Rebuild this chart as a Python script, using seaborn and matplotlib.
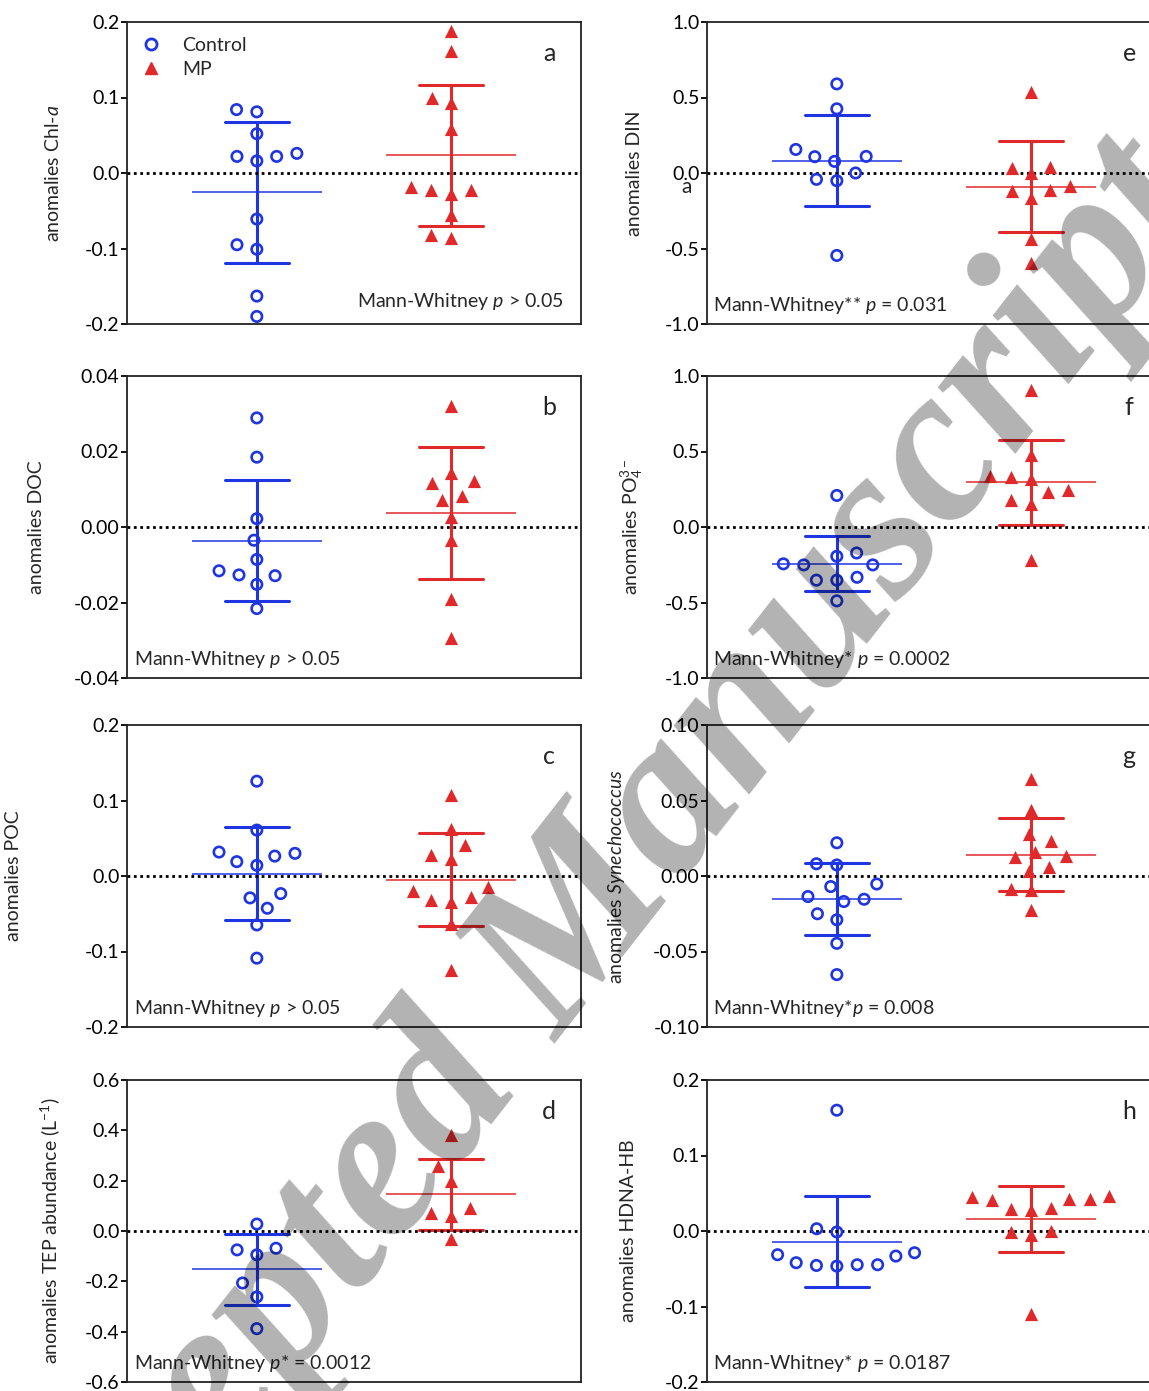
import numpy as np
import pandas as pd
import matplotlib
matplotlib.use("Agg")
import matplotlib.pyplot as plt
import seaborn as sns
from matplotlib.lines import Line2D

sns.set_theme(style="ticks")
plt.rcParams["font.family"] = ["Lato", "DejaVu Sans"]
plt.rcParams["mathtext.fontset"] = "custom"
plt.rcParams["mathtext.rm"] = "Lato"
plt.rcParams["mathtext.it"] = "Lato:italic"
plt.rcParams["mathtext.bf"] = "Lato:bold"
plt.rcParams["axes.unicode_minus"] = False

# ---------------- data ----------------
groups = ["Control", "MP"]

chla_control = [0.081, 0.084, 0.052, 0.022, 0.022, 0.016, 0.026, -0.061, -0.101, -0.095, -0.163, -0.190]
chla_mp = [0.188, 0.161, 0.093, 0.100, 0.058, -0.018, -0.028, -0.023, -0.023, -0.056, -0.086, -0.082]

doc_control = [0.0289, 0.0185, 0.0022, -0.0035, -0.0086, -0.0116, -0.0127, -0.0129, -0.0152, -0.0216]
doc_mp = [0.0320, 0.0123, 0.0117, 0.0143, 0.0072, 0.0081, 0.0026, -0.0035, -0.0191, -0.0293]

poc_control = [0.1256, 0.0608, 0.0264, 0.0317, 0.0300, 0.0190, 0.0141, -0.0233, -0.0290, -0.0427, -0.0648, -0.1088]
poc_mp = [0.107, 0.0617, 0.0405, 0.0278, 0.022, -0.0145, -0.0278, -0.0339, -0.0317, -0.0203, -0.0630, -0.1250]

tep_control = [0.0276, -0.0684, -0.075, -0.0947, -0.2066, -0.2618, -0.388]
tep_mp = [0.383, 0.2566, 0.199, 0.0895, 0.0697, 0.059, -0.0316]

din_control = [0.590, 0.425, 0.110, 0.108, 0.156, 0.077, 0.0, -0.042, -0.051, -0.546]
din_mp = [0.537, -0.002, 0.042, 0.033, -0.119, -0.167, -0.112, -0.086, -0.436, -0.597]

po4_control = [0.209, -0.244, -0.251, -0.172, -0.251, -0.194, -0.352, -0.352, -0.333, -0.489]
po4_mp = [0.907, 0.474, 0.337, 0.330, 0.319, 0.231, 0.242, 0.181, 0.154, -0.220]

syn_control = [0.022, 0.0073, 0.0081, -0.0053, -0.007, -0.0154, -0.0136, -0.0169, -0.025, -0.029, -0.0446, -0.0653]
syn_mp = [0.0644, 0.044, 0.0281, 0.0235, 0.0127, 0.0132, 0.0158, 0.0062, 0.0033, -0.0084, -0.0095, -0.0226]

hdna_control = [0.160, -0.0013, 0.003, -0.0314, -0.0288, -0.0332, -0.0447, -0.0447, -0.0465, -0.042, -0.0456]
hdna_mp = [0.0429, 0.0407, 0.0451, 0.0274, 0.0305, 0.0296, 0.0429, 0.0465, -0.0004, -0.0058, -0.0013, -0.1097]

ylabels = [
    "anomalies Chl-$a$", "anomalies DOC", "anomalies POC", "anomalies TEP abundance (L$^{-1}$)",
    "anomalies DIN", "anomalies PO$_4^{3-}$", "anomalies $Synechococcus$", "anomalies HDNA-HB",
]
panel_letters = ["a", "b", "c", "d", "e", "f", "g", "h"]
stat_texts = [
    "Mann-Whitney $p$ > 0.05", "Mann-Whitney $p$ > 0.05", "Mann-Whitney $p$ > 0.05",
    "Mann-Whitney $p$* = 0.0012", "Mann-Whitney** $p$ = 0.031", "Mann-Whitney* $p$ = 0.0002",
    "Mann-Whitney*$p$ = 0.008", "Mann-Whitney* $p$ = 0.0187",
]
yticks = [
    [-0.2, -0.1, 0.0, 0.1, 0.2], [-0.04, -0.02, 0.0, 0.02, 0.04], [-0.2, -0.1, 0.0, 0.1, 0.2],
    [-0.6, -0.4, -0.2, 0.0, 0.2, 0.4, 0.6], [-1.0, -0.5, 0.0, 0.5, 1.0], [-1.0, -0.5, 0.0, 0.5, 1.0],
    [-0.10, -0.05, 0.0, 0.05, 0.10], [-0.2, -0.1, 0.0, 0.1, 0.2],
]
ytick_labels = [
    ["-0.2", "-0.1", "0.0", "0.1", "0.2"], ["-0.04", "-0.02", "0.00", "0.02", "0.04"],
    ["-0.2", "-0.1", "0.0", "0.1", "0.2"], ["-0.6", "-0.4", "-0.2", "0.0", "0.2", "0.4", "0.6"],
    ["-1.0", "-0.5", "0.0", "0.5", "1.0"], ["-1.0", "-0.5", "0.0", "0.5", "1.0"],
    ["-0.10", "-0.05", "0.00", "0.05", "0.10"], ["-0.2", "-0.1", "0.0", "0.1", "0.2"],
]
series = [
    (chla_control, chla_mp), (doc_control, doc_mp), (poc_control, poc_mp), (tep_control, tep_mp),
    (din_control, din_mp), (po4_control, po4_mp), (syn_control, syn_mp), (hdna_control, hdna_mp),
]

# ---------------- style / layout ----------------
BLUE = "#1f35e2"
RED = "#e0292b"
W, H = 1149, 1391
fig = plt.figure(figsize=(W / 100, H / 100), dpi=100)

col_left = [127, 707]
row_top = [22, 376, 725, 1080]
ax_w, ax_h = 454, 302
label_x = [-0.143, -0.180, -0.231, -0.143, -0.141, -0.137, -0.176, -0.154]
stat_left = [False, True, True, True, True, True, True, True]


def added_points(ax, n0):
    return [c for c in ax.collections[n0:] if len(c.get_offsets()) > 0]


axes = []
swarm_colls = []
for i in range(8):
    c, r = i // 4, i % 4
    x0 = col_left[c] / W
    y0 = 1 - (row_top[r] + ax_h) / H
    ax = fig.add_axes([x0, y0, ax_w / W, ax_h / H])
    axes.append(ax)
    ctrl, mp = series[i]
    df = pd.DataFrame({"group": ["Control"] * len(ctrl) + ["MP"] * len(mp),
                       "value": list(ctrl) + list(mp)})

    n0 = len(ax.collections)
    sns.swarmplot(data=df[df.group == "Control"], x="group", y="value", order=groups,
                  color=BLUE, marker="o", size=14, linewidth=0, ax=ax, zorder=3, warn_thresh=1)
    swarm_colls += [(cc, "o") for cc in added_points(ax, n0)]
    n0 = len(ax.collections)
    sns.swarmplot(data=df[df.group == "MP"], x="group", y="value", order=groups,
                  color=RED, marker="^", size=14, linewidth=0, ax=ax, zorder=3, warn_thresh=1)
    swarm_colls += [(cc, "^") for cc in added_points(ax, n0)]

    sns.pointplot(data=df, x="group", y="value", hue="group", order=groups, hue_order=groups,
                  palette=[BLUE, RED], errorbar="sd", capsize=0.33, marker="_", markersize=93,
                  markeredgewidth=1.1, linestyle="none", err_kws={"linewidth": 2.2},
                  legend=False, ax=ax)

    ax.axhline(0, color="black", linestyle=(0, (1, 1.3)), linewidth=2.0, zorder=2.8)

    ax.set_xlim(-0.668, 1.668)
    ax.set_ylim(yticks[i][0], yticks[i][-1])
    ax.set_yticks(yticks[i])
    ax.set_yticklabels(ytick_labels[i])
    ax.set_xticks([])
    ax.set_xlabel("")
    ax.set_ylabel(ylabels[i], fontsize=14)
    ax.yaxis.set_label_coords(label_x[i], 0.5)
    ax.tick_params(axis="y", left=True, direction="out", length=4, width=1.3,
                   labelsize=14, pad=1.5, colors="black")
    for sp in ax.spines.values():
        sp.set_visible(True)
        sp.set_color("#222222")
        sp.set_linewidth(1.3)

    ax.text(0.93, 0.895, panel_letters[i], transform=ax.transAxes, fontsize=18,
            ha="center", va="center")
    if stat_left[i]:
        ax.text(0.016 if c == 0 else 0.013, 0.06, stat_texts[i], transform=ax.transAxes,
                fontsize=14, ha="left", va="center")
    else:
        ax.text(0.962, 0.073, stat_texts[i], transform=ax.transAxes,
                fontsize=14, ha="right", va="center")

# stray label visible in panel e of the original
axes[4].text(-0.046, 0.455, "a", transform=axes[4].transAxes, fontsize=15,
             ha="center", va="center")

# legend in panel a
handles = [
    Line2D([], [], linestyle="none", marker="o", markersize=8, markerfacecolor="none",
           markeredgecolor=BLUE, markeredgewidth=2),
    Line2D([], [], linestyle="none", marker="^", markersize=9, color=RED),
]
axes[0].legend(handles, groups, loc="upper left", bbox_to_anchor=(0.0, 1.0), frameon=False,
               fontsize=14, handlelength=1.0, handletextpad=1.1, labelspacing=0.38,
               borderaxespad=0.45, borderpad=0.3)

# watermark
fig.text(0.50, 0.32, "Accepted Manuscript", rotation=52, rotation_mode="anchor",
         ha="center", va="center", fontsize=160, family="Liberation Serif", style="italic",
         weight="bold", color="black", alpha=0.3, zorder=20)

# compute swarm layout with wide spacing, then freeze it and shrink markers
fig.canvas.draw()
for coll, mk in swarm_colls:
    if "draw" in coll.__dict__:
        del coll.draw
    if mk == "o":
        coll.set_sizes([7.5 ** 2])
        coll.set_facecolor("none")
        coll.set_edgecolor(BLUE)
        coll.set_linewidth(1.9)
    else:
        coll.set_sizes([9.5 ** 2])
        coll.set_facecolor(RED)
        coll.set_edgecolor(RED)
        coll.set_linewidth(0)

fig.savefig("out.png", dpi=100)
